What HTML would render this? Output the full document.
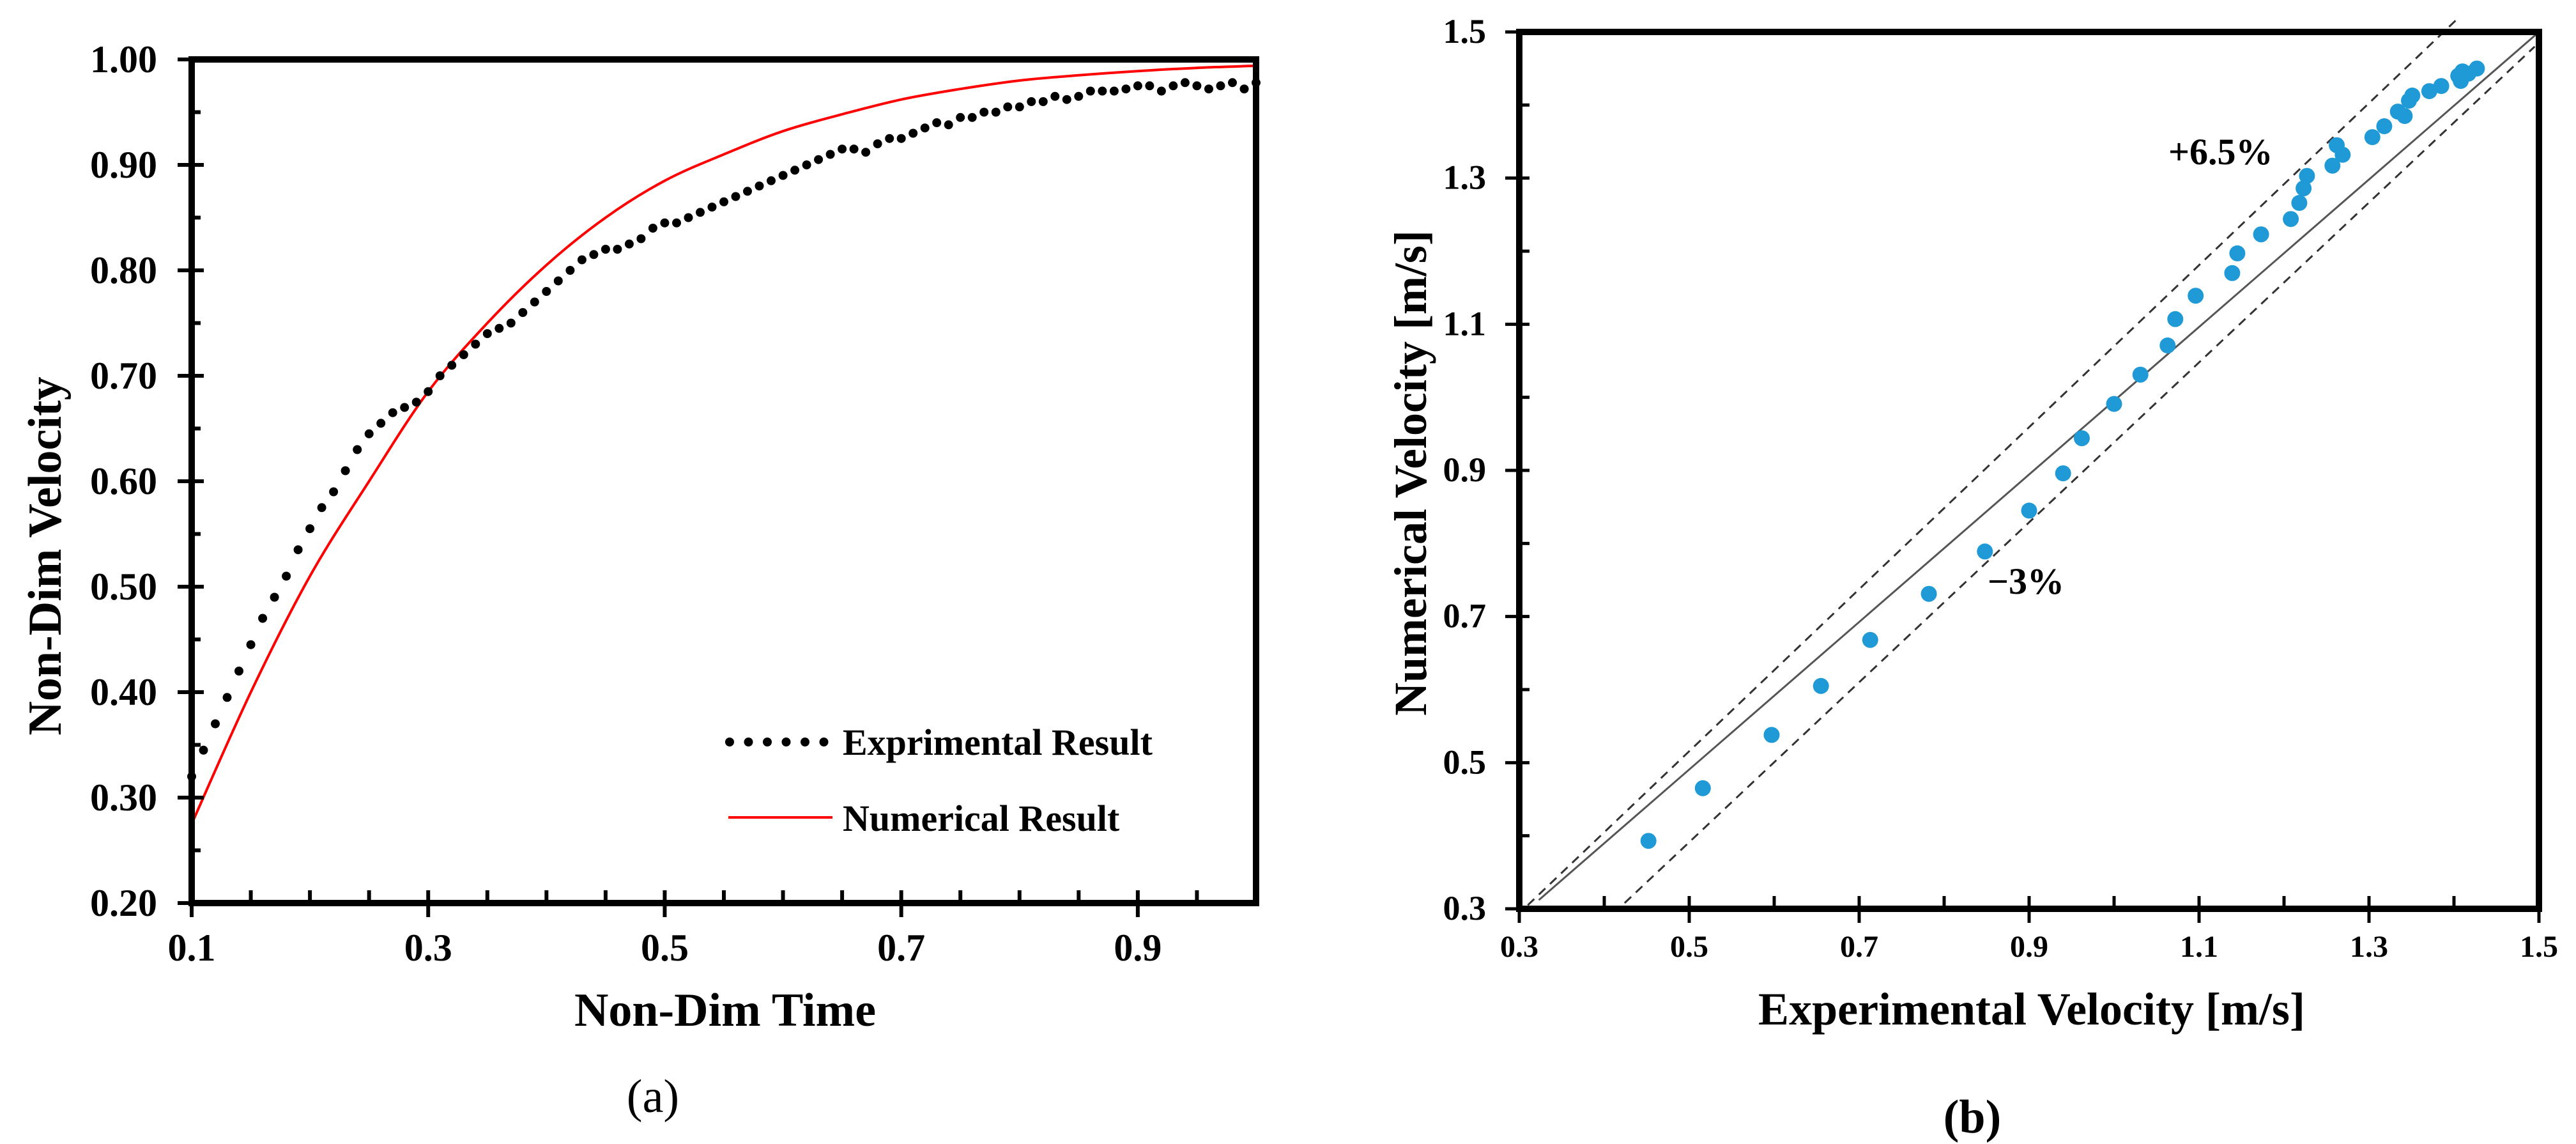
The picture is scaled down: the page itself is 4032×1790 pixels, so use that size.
<!DOCTYPE html>
<html><head><meta charset="utf-8"><style>
html,body{margin:0;padding:0;background:#fff;}
svg{display:block;font-family:"Liberation Serif",serif;font-weight:bold;}
</style></head><body>
<svg id="fig" width="4032" height="1790" viewBox="0 0 4032 1790" xmlns="http://www.w3.org/2000/svg">
<g id="pa"></g>
<g id="pb"></g>
</svg>
<script>
// ---- chart (a) data ----
const aTimeTicks = [0.1, 0.3, 0.5, 0.7, 0.9];
const aTimeTickLabels = ["0.1", "0.3", "0.5", "0.7", "0.9"];
const aVelTicks = [0.2,0.3,0.4,0.5,0.6,0.7,0.8,0.9,1.0];
const aVelTickLabels = ["0.20","0.30","0.40","0.50","0.60","0.70","0.80","0.90","1.00"];
const expT = [0.10,0.11,0.12,0.13,0.14,0.15,0.16,0.17,0.18,0.19,0.20,0.21,0.22,0.23,0.24,0.25,0.26,0.27,0.28,0.29,0.30,0.31,0.32,0.33,0.34,0.35,0.36,0.37,0.38,0.39,0.40,0.41,0.42,0.43,0.44,0.45,0.46,0.47,0.48,0.49,0.50,0.51,0.52,0.53,0.54,0.55,0.56,0.57,0.58,0.59,0.60,0.61,0.62,0.63,0.64,0.65,0.66,0.67,0.68,0.69,0.70,0.71,0.72,0.73,0.74,0.75,0.76,0.77,0.78,0.79,0.80,0.81,0.82,0.83,0.84,0.85,0.86,0.87,0.88,0.89,0.90,0.91,0.92,0.93,0.94,0.95,0.96,0.97,0.98,0.99,1.00];
const expV = [0.32,0.345,0.37,0.395,0.42,0.445,0.47,0.49,0.51,0.535,0.555,0.575,0.59,0.61,0.63,0.645,0.655,0.665,0.67,0.675,0.685,0.70,0.71,0.72,0.73,0.74,0.745,0.75,0.76,0.77,0.78,0.79,0.80,0.81,0.815,0.82,0.82,0.825,0.83,0.84,0.845,0.845,0.85,0.855,0.86,0.865,0.87,0.875,0.88,0.885,0.89,0.895,0.90,0.905,0.91,0.915,0.915,0.912,0.92,0.925,0.925,0.93,0.935,0.94,0.938,0.945,0.945,0.95,0.95,0.955,0.955,0.96,0.96,0.965,0.962,0.965,0.97,0.97,0.97,0.972,0.975,0.975,0.97,0.975,0.978,0.975,0.972,0.975,0.978,0.972,0.978];
const numT = [0.10,0.15,0.20,0.25,0.30,0.35,0.40,0.45,0.50,0.55,0.60,0.65,0.70,0.75,0.80,0.85,0.90,0.95,1.00];
const numV = [0.275,0.40,0.51,0.60,0.685,0.75,0.805,0.85,0.885,0.91,0.932,0.948,0.962,0.972,0.980,0.985,0.989,0.992,0.994];
// ---- chart (b) data ----
const bTicks = [0.3,0.5,0.7,0.9,1.1,1.3,1.5];
const bTickLabels = ["0.3","0.5","0.7","0.9","1.1","1.3","1.5"];
const bExp = [0.452,0.516,0.597,0.655,0.713,0.782,0.848,0.900,0.940,0.962,1.000,1.031,1.063,1.072,1.096,1.139,1.145,1.173,1.208,1.218,1.223,1.227,1.257,1.262,1.269,1.304,1.318,1.334,1.342,1.347,1.351,1.371,1.385,1.405,1.410,1.417,1.427,1.408];
const bNum = [0.393,0.465,0.538,0.605,0.668,0.731,0.789,0.845,0.896,0.944,0.991,1.031,1.071,1.107,1.139,1.170,1.197,1.223,1.244,1.266,1.286,1.303,1.317,1.345,1.332,1.356,1.371,1.391,1.385,1.406,1.413,1.419,1.426,1.440,1.446,1.443,1.450,1.433];
const refLineX1 = [0.323, 0.310, 0.424];
const refLineY1 = [0.312, 0.305, 0.308];
const refLineX2 = [1.500, 1.405, 1.495];
const refLineY2 = [1.500, 1.519, 1.480];

const NS = "http://www.w3.org/2000/svg";
function mk(parent, tag, attrs, text){
  const e = document.createElementNS(NS, tag);
  for (const k in attrs) e.setAttribute(k, attrs[k]);
  if (text !== undefined) e.textContent = text;
  parent.appendChild(e);
  return e;
}
function smoothPath(pts){
  let s = 'M' + pts[0][0].toFixed(1) + ' ' + pts[0][1].toFixed(1);
  for (let i=0;i<pts.length-1;i++){
    const p0 = pts[Math.max(0,i-1)], p1 = pts[i], p2 = pts[i+1], p3 = pts[Math.min(pts.length-1,i+2)];
    const c1x = p1[0] + (p2[0]-p0[0])/6, c1y = p1[1] + (p2[1]-p0[1])/6;
    const c2x = p2[0] - (p3[0]-p1[0])/6, c2y = p2[1] - (p3[1]-p1[1])/6;
    s += ' C' + c1x.toFixed(1)+' '+c1y.toFixed(1)+' '+c2x.toFixed(1)+' '+c2y.toFixed(1)+' '+p2[0].toFixed(1)+' '+p2[1].toFixed(1);
  }
  return s;
}
// axes a
const ax = v => 300 + (v - 0.1) / 0.9 * 1666;
const ay = v => 93 + (1.0 - v) / 0.8 * 1320;
const ga = document.getElementById('pa');

const nc = mk(ga,'path',{d:smoothPath(numT.map((t,i)=>[ax(t),ay(numV[i])])),fill:'none',stroke:'#ff0000','stroke-width':4});


const eg = mk(ga,'g',{});


expT.forEach((t,i)=>{
  const c = mk(eg,'circle',{cx:ax(t).toFixed(1),cy:ay(expV[i]).toFixed(1),r:7,fill:'#000'});
  
  
});
const fa = mk(ga,'rect',{x:ax(0.1),y:ay(1.0),width:ax(1.0)-ax(0.1),height:ay(0.2)-ay(1.0),fill:'none',stroke:'#000','stroke-width':10});


for (let k=0;k<=18;k++){
  const v = 0.1 + k*0.05; const x = ax(v);
  const major = (k%4===0);
  mk(ga,'line',{x1:x,x2:x,y1:ay(0.2)-20,y2:ay(0.2)+(major?22:0),stroke:'#000','stroke-width':6});
}
aTimeTicks.forEach((v,i)=>{
  const t = mk(ga,'text',{x:ax(v),y:1503,'font-size':60,'text-anchor':'middle'},aTimeTickLabels[i]);
  
  
});
for (let k=0;k<=16;k++){
  const v = 0.2 + k*0.05; const y = ay(v);
  const major = (k%2===0);
  mk(ga,'line',{x1:ax(0.1)-(major?22:0),x2:ax(0.1)+(major?19:14),y1:y,y2:y,stroke:'#000','stroke-width':6});
}
aVelTicks.forEach((v,i)=>{
  const t = mk(ga,'text',{x:246,y:ay(v)+20,'font-size':60,'text-anchor':'end'},aVelTickLabels[i]);
  
  
});
let t;
t = mk(ga,'text',{x:1135,y:1605,'font-size':74,'text-anchor':'middle'},'Non-Dim Time');
 
t = mk(ga,'text',{x:0,y:0,'font-size':74,'text-anchor':'middle',transform:'translate(95,870) rotate(-90)'},'Non-Dim Velocity');
 
t = mk(ga,'text',{x:1022,y:1740,'font-size':74,'font-weight':'normal','text-anchor':'middle'},'(a)');
 
const lg = mk(ga,'g',{});
 
for (let k=0;k<6;k++) mk(lg,'circle',{cx:1142+k*29.5,cy:1161,r:7,fill:'#000'});
mk(lg,'line',{x1:1140,x2:1303,y1:1279,y2:1279,stroke:'#ff0000','stroke-width':4});
t = mk(lg,'text',{x:1319,y:1181,'font-size':58},'Exprimental Result');
 
t = mk(lg,'text',{x:1319,y:1300,'font-size':58},'Numerical Result');
 

// ---- chart b ----
const bx = v => 2378 + (v - 0.3) / 1.2 * 1596;
const by = v => 50 + (1.5 - v) / 1.2 * 1372;
const gb = document.getElementById('pb');
const styles = [{s:'#555','w':3,da:''},{s:'#333','w':3,da:'14 10'},{s:'#333','w':3,da:'14 10'}];
const names = ['parity-line','plus-6.5-percent-line','minus-3-percent-line'];
refLineX1.forEach((v,i)=>{
  const l = mk(gb,'line',{x1:bx(v),y1:by(refLineY1[i]),x2:bx(refLineX2[i]),y2:by(refLineY2[i]),stroke:styles[i].s,'stroke-width':styles[i].w,'stroke-dasharray':styles[i].da});
  
  
});
const sg = mk(gb,'g',{});
 
bExp.forEach((v,i)=>{
  const c = mk(sg,'circle',{cx:bx(v).toFixed(1),cy:by(bNum[i]).toFixed(1),r:12.5,fill:'#1f9ad6'});
  
  
});
const fb = mk(gb,'rect',{x:bx(0.3),y:by(1.5),width:bx(1.5)-bx(0.3),height:by(0.3)-by(1.5),fill:'none',stroke:'#000','stroke-width':10});
 
for (let k=0;k<=12;k++){
  const v = 0.3 + k*0.1; const major = (k%2===0);
  mk(gb,'line',{x1:bx(v),x2:bx(v),y1:by(0.3)-20,y2:by(0.3)+(major?22:0),stroke:'#000','stroke-width':5});
  mk(gb,'line',{x1:bx(0.3)-(major?22:0),x2:bx(0.3)+16,y1:by(v),y2:by(v),stroke:'#000','stroke-width':5});
}
bTicks.forEach((v,i)=>{
  let e = mk(gb,'text',{x:bx(v),y:1497,'font-size':48,'text-anchor':'middle'},bTickLabels[i]);
   
  e = mk(gb,'text',{x:2326,y:by(v)+17,'font-size':54,'text-anchor':'end'},bTickLabels[i]);
   
});
t = mk(gb,'text',{x:3180,y:1603,'font-size':72,'text-anchor':'middle'},'Experimental Velocity [m/s]');
 
t = mk(gb,'text',{x:0,y:0,'font-size':72,'text-anchor':'middle',transform:'translate(2232,740) rotate(-90)'},'Numerical Velocity [m/s]');
 
t = mk(gb,'text',{x:3087,y:1772,'font-size':74,'text-anchor':'middle'},'(b)');
 
t = mk(gb,'text',{x:3394,y:257,'font-size':58},'+6.5%');
 
t = mk(gb,'text',{x:3111,y:929,'font-size':58},'\u22123%');
 
</script>
</body></html>
